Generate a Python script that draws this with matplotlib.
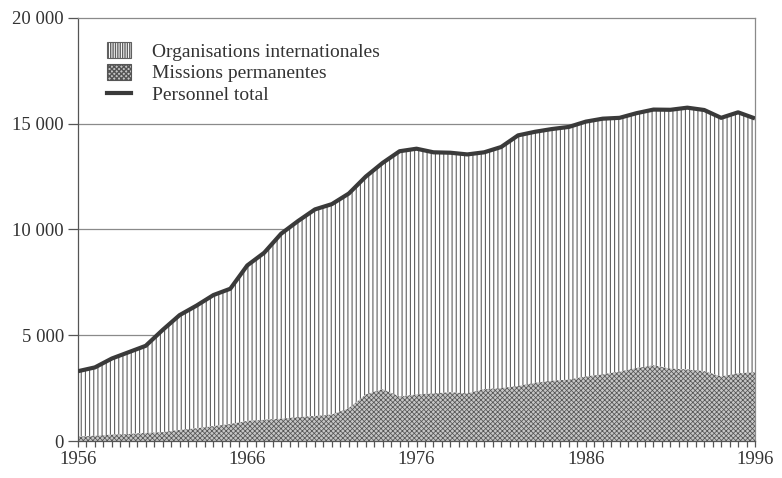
import numpy as np
import matplotlib.pyplot as plt
from matplotlib.ticker import MultipleLocator
from matplotlib.patches import Patch
from matplotlib.lines import Line2D

years = np.arange(1956, 1997)
total = [3300, 3480, 3900, 4200, 4500, 5250, 5950, 6400, 6900, 7200,
         8300, 8900, 9800, 10400, 10950, 11200, 11700, 12500, 13150, 13700,
         13820, 13650, 13630, 13550, 13650, 13900, 14450, 14620, 14750, 14850,
         15100, 15240, 15280, 15500, 15670, 15660, 15760, 15650, 15280, 15540,
         15250]
missions = [200, 250, 300, 330, 380, 420, 520, 600, 700, 800,
            950, 1000, 1050, 1130, 1180, 1250, 1550, 2200, 2450, 2100,
            2200, 2250, 2300, 2250, 2450, 2500, 2600, 2750, 2850, 2900,
            3050, 3150, 3280, 3450, 3580, 3420, 3380, 3300, 3050, 3200,
            3250]
y_ticks = [0, 5000, 10000, 15000, 20000]
y_labels = ["0", "5 000", "10 000", "15 000", "20 000"]
x_ticks = [1956, 1966, 1976, 1986, 1996]
series_names = ["Organisations internationales", "Missions permanentes", "Personnel total"]

plt.rcParams["font.family"] = ["Liberation Serif", "DejaVu Serif"]
plt.rcParams["font.size"] = 13.5

fig = plt.figure(figsize=(7.82, 4.78), dpi=100)
ax = fig.add_axes([78 / 782, 37 / 478, 677 / 782, 423 / 478])

for v in y_ticks[1:-1]:
    ax.axhline(v, color="#8a8a8a", lw=0.9, zorder=0)

with plt.rc_context({"hatch.linewidth": 0.8}):
    ax.fill_between(years, missions, total, facecolor="white",
                    edgecolor="#606060", hatch="||||", lw=0, zorder=1)
    h_org = Patch(facecolor="white", edgecolor="#606060", hatch="|||||||", lw=0.8)
with plt.rc_context({"hatch.linewidth": 0.55}):
    ax.fill_between(years, 0, missions, facecolor="#c6c6c6",
                    edgecolor="#555555", hatch="xxxxxxx", lw=0, zorder=1)
    h_mis = Patch(facecolor="#c6c6c6", edgecolor="#555555", hatch="xxxxxxx", lw=0.8)
ax.plot(years, total, color="#3a3a3a", lw=3, zorder=3, solid_capstyle="butt")
h_tot = Line2D([], [], color="#3a3a3a", lw=3)

ax.set_xlim(1956, 1996)
ax.set_ylim(0, 20000)
ax.set_yticks(y_ticks)
ax.set_yticklabels(y_labels)
ax.set_xticks(x_ticks)
ax.set_xticklabels([str(x) for x in x_ticks])
ax.xaxis.set_minor_locator(MultipleLocator(0.5))
ax.tick_params(axis="y", direction="out", length=7, width=0.9, colors="#555555",
               labelcolor="#333333", pad=3)
ax.tick_params(axis="x", which="both", direction="out", length=4, width=0.9,
               colors="#555555", labelcolor="#333333", pad=3)
for s in ax.spines.values():
    s.set_color("#555555")
    s.set_linewidth(0.9)
ax.spines["top"].set_color("#8a8a8a")
ax.spines["right"].set_color("#8a8a8a")

leg = ax.legend(handles=[h_org, h_mis, h_tot], labels=series_names, loc="upper left",
                bbox_to_anchor=(0.0166, 0.985), frameon=False,
                handlelength=1.25, handleheight=0.9, handletextpad=1.08,
                labelspacing=0.15, fontsize=14)
for t in leg.get_texts():
    t.set_color("#333333")

fig.savefig("out.png", dpi=100)
